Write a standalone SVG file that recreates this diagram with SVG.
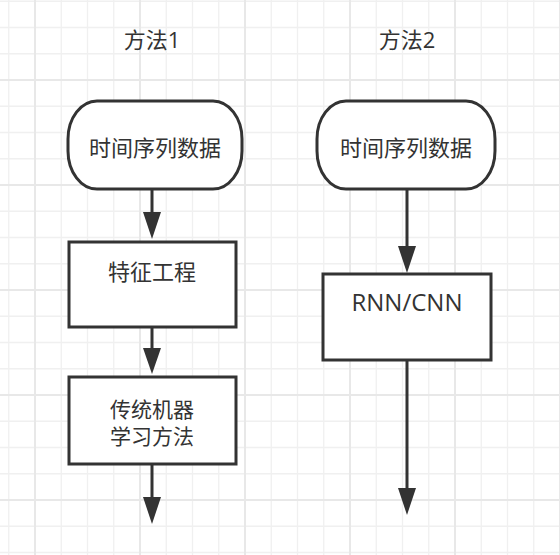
<svg xmlns="http://www.w3.org/2000/svg" width="560" height="555" viewBox="0 0 560 555">
  <style>
    .shape { fill: #ffffff; stroke: #333333; stroke-width: 3; }
    .edge { stroke: #333333; stroke-width: 3; fill: none; }
    .label { font-family: "Open Sans", "Noto Sans CJK SC", sans-serif; font-size: 22px; fill: #333333; text-anchor: middle; }
    .minor { stroke: #f0f0f0; stroke-width: 1.3; }
    .major { stroke: #e8e8e8; stroke-width: 2; }
  </style>
  <defs>
    <pattern id="grid" patternUnits="userSpaceOnUse" x="35" y="80" width="105" height="105">
      <line class="minor" x1="26.25" y1="0" x2="26.25" y2="105"/>
      <line class="minor" x1="52.5" y1="0" x2="52.5" y2="105"/>
      <line class="minor" x1="78.75" y1="0" x2="78.75" y2="105"/>
      <line class="minor" x1="0" y1="26.25" x2="105" y2="26.25"/>
      <line class="minor" x1="0" y1="52.5" x2="105" y2="52.5"/>
      <line class="minor" x1="0" y1="78.75" x2="105" y2="78.75"/>
      <line class="major" x1="0" y1="0" x2="0" y2="105"/>
      <line class="major" x1="105" y1="0" x2="105" y2="105"/>
      <line class="major" x1="0" y1="0" x2="105" y2="0"/>
      <line class="major" x1="0" y1="105" x2="105" y2="105"/>
    </pattern>
  </defs>

  <rect x="0" y="0" width="560" height="555" fill="#ffffff"/>
  <rect x="0" y="0" width="560" height="555" fill="url(#grid)"/>

  <g id="connectors">
    <line class="edge" x1="152" y1="189" x2="152" y2="212"/>
    <path d="M143,212 L161,212 L152,239 Z" fill="#333333"/>
    <line class="edge" x1="152" y1="327" x2="152" y2="348"/>
    <path d="M143,348 L161,348 L152,374 Z" fill="#333333"/>
    <line class="edge" x1="152" y1="464" x2="152" y2="498"/>
    <path d="M143,497 L161,497 L152,524 Z" fill="#333333"/>
    <line class="edge" x1="407" y1="189" x2="407" y2="247"/>
    <path d="M398,246 L416,246 L407,273 Z" fill="#333333"/>
    <line class="edge" x1="407" y1="360" x2="407" y2="489"/>
    <path d="M398,488 L416,488 L407,515 Z" fill="#333333"/>
  </g>

  <g id="title1">
    <text class="label" x="152" y="48">方法1</text>
  </g>
  <g id="title2">
    <text class="label" x="407" y="48">方法2</text>
  </g>

  <g id="data1">
    <rect class="shape" x="68" y="101" width="174" height="88" rx="29" ry="38"/>
    <text class="label" x="155" y="156">时间序列数据</text>
  </g>
  <g id="feature">
    <rect class="shape" x="69" y="242" width="167" height="85"/>
    <text class="label" x="152" y="280">特征工程</text>
  </g>
  <g id="ml">
    <rect class="shape" x="69" y="377" width="167" height="87"/>
    <text class="label" x="152" y="417" style="font-size:21px">传统机器</text>
    <text class="label" x="152" y="444" style="font-size:21px">学习方法</text>
  </g>

  <g id="data2">
    <rect class="shape" x="317" y="101" width="178" height="88" rx="29" ry="38"/>
    <text class="label" x="406" y="156">时间序列数据</text>
  </g>
  <g id="rnn">
    <rect class="shape" x="323" y="274" width="168" height="86"/>
    <text class="label" x="407" y="311" style="font-size:24px">RNN/CNN</text>
  </g>
</svg>
